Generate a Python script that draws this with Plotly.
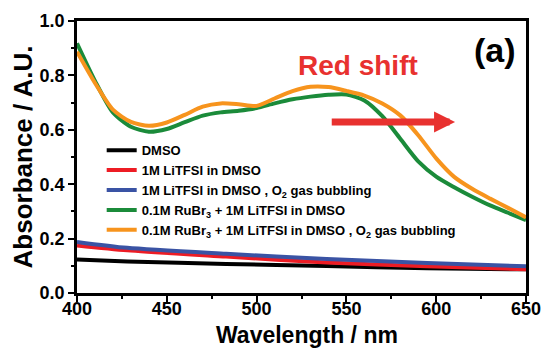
import plotly.graph_objects as go

# ---- data ----
wl_low = [400, 428, 483, 539, 595, 650]
dmso = [0.123, 0.116, 0.107, 0.099, 0.091, 0.087]
litfsi = [0.175, 0.157, 0.134, 0.112, 0.098, 0.087]
litfsi_o2 = [0.188, 0.166, 0.144, 0.125, 0.110, 0.098]

wl = [400, 410, 420, 430, 440, 450, 460, 470, 480, 490, 500, 510, 520,
      530, 540, 550, 560, 570, 580, 590, 600, 610, 620, 630, 640, 650]
rubr = [0.918, 0.780, 0.664, 0.611, 0.593, 0.603, 0.628, 0.652, 0.664, 0.670, 0.680,
        0.697, 0.712, 0.722, 0.729, 0.730, 0.708, 0.650, 0.567, 0.484, 0.428, 0.389,
        0.354, 0.322, 0.295, 0.268]
rubr_o2 = [0.887, 0.772, 0.674, 0.629, 0.615, 0.627, 0.655, 0.685, 0.697, 0.694, 0.688,
           0.715, 0.742, 0.758, 0.757, 0.743, 0.726, 0.697, 0.653, 0.580, 0.495, 0.427,
           0.383, 0.347, 0.313, 0.278]

names = ["DMSO", "1M LiTFSI in DMSO", "1M LiTFSI in DMSO , O<sub>2</sub> gas bubbling",
         "0.1M RuBr<sub>3</sub> + 1M LiTFSI in DMSO",
         "0.1M RuBr<sub>3</sub> + 1M LiTFSI in DMSO , O<sub>2</sub> gas bubbling"]
colors = ["#000000", "#ed1c24", "#3a53a4", "#1b8b3a", "#f7941d"]

xs = [wl_low, wl_low, wl_low, wl, wl]
ys = [dmso, litfsi, litfsi_o2, rubr, rubr_o2]

FONT = "Liberation Sans"

fig = go.Figure()
for x, y, n, c in zip(xs, ys, names, colors):
    fig.add_trace(go.Scatter(x=x, y=y, name=n, mode="lines",
                             line=dict(color=c, width=4, shape="spline", smoothing=0.7)))

axis_common = dict(showline=True, linecolor="black", linewidth=2.5, mirror=True,
                   ticks="outside", ticklen=6, tickwidth=2, tickcolor="black",
                   showgrid=False, zeroline=False, automargin=False,
                   tickfont=dict(family=FONT, size=18, color="black", weight="bold"))

fig.update_xaxes(range=[400, 650], dtick=50, tick0=400, ticklabelstandoff=-8,
                 minor=dict(dtick=25, ticklen=3, tickwidth=2, tickcolor="black", ticks="outside"),
                 **axis_common)
fig.update_yaxes(range=[0, 1.0], dtick=0.2, tick0=0, tickformat=".1f",
                 minor=dict(dtick=0.1, ticklen=3, tickwidth=2, tickcolor="black", ticks="outside"),
                 title=dict(text="Absorbance / A.U.", standoff=0,
                            font=dict(family=FONT, size=26, color="black", weight="bold")),
                 **axis_common)

# x-axis title (placed as paper annotation so it sits just like the reference)
fig.add_annotation(x=0.513, y=-0.153, xref="paper", yref="paper", xanchor="center",
                   yanchor="middle", text="Wavelength / nm", showarrow=False,
                   font=dict(family=FONT, size=23, color="black", weight="bold"))

fig.add_annotation(x=556.5, y=0.835, xref="x", yref="y", text="Red shift", showarrow=False,
                   font=dict(family=FONT, size=28, color="#e8312f", weight="bold"))
fig.add_annotation(x=633, y=0.893, xref="x", yref="y", text="(a)", showarrow=False,
                   font=dict(family=FONT, size=34, color="black", weight="bold"))
fig.add_annotation(x=610.5, y=0.629, ax=541, ay=0.629, xref="x", yref="y", axref="x", ayref="y",
                   text="", showarrow=True, arrowhead=2, arrowsize=0.6, arrowwidth=7,
                   arrowcolor="#e8312f")

fig.update_layout(
    width=542, height=348,
    margin=dict(l=77, r=16, t=21, b=55, pad=0),
    paper_bgcolor="white", plot_bgcolor="white",
    showlegend=True,
    legend=dict(x=0.055, y=0.58, xanchor="left", yanchor="top",
                bgcolor="rgba(0,0,0,0)", itemwidth=30, tracegroupgap=0,
                font=dict(family=FONT, size=13, color="black", weight="bold")),
)

fig.write_html("out.html")
